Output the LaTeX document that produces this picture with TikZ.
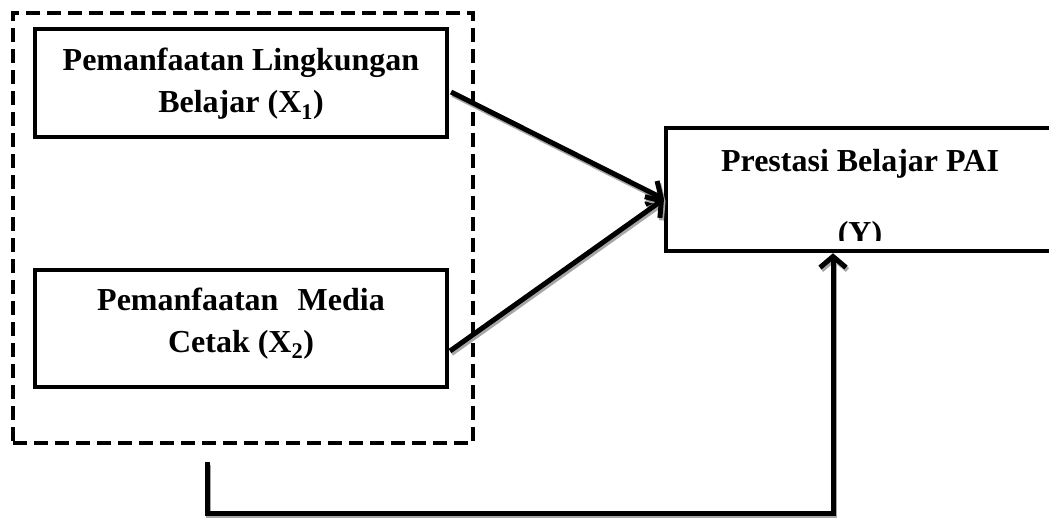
\documentclass[tikz,border=0pt]{standalone}
\usepackage{fontspec}
\setmainfont{Liberation Serif}
\usetikzlibrary{arrows.meta,calc}
\tikzset{
  box/.style={draw=black, line width=4.5pt, fill=white, inner sep=0pt},
  txt/.style={font=\fontsize{32}{42}\selectfont\bfseries, align=center, inner sep=0pt},
  grp/.style={draw=black, line width=4.5pt, dash pattern=on 14pt off 7pt, inner sep=0pt},
  conn/.style={line width=5pt, line cap=butt,
    preaction={draw=black!35, line width=5pt, transform canvas={shift={(1.5pt,-2.5pt)}}}},
  tip/.style={-{Straight Barb[length=11pt,width=26pt,line width=5pt]}}
}
\begin{document}
\begin{tikzpicture}[x=1pt,y=-1pt]
\useasboundingbox (0,0) rectangle (1049,517);
\clip (0,0) rectangle (1049,517);
% group frame
\node[grp, minimum width=460pt, minimum height=430pt] (grp) at (243,228) {};
% boxes
\node[box, minimum width=412pt, minimum height=108pt] (x1) at (241,83) {};
\node[txt] (x1t) at (241,84) {Pemanfaatan Lingkungan\\Belajar (X\textsubscript{1})};
\node[box, minimum width=412pt, minimum height=117pt] (x2) at (241,328.5) {};
\node[txt] (x2t) at (241,323.5) {Pemanfaatan\hspace{0.35em} Media\\Cetak (X\textsubscript{2})};
\node[box, minimum width=388pt, minimum height=123pt] (y) at (860,189.5) {};
\node[txt, anchor=base] (yt1) at (860,171) {Prestasi Belajar PAI};
\begin{scope}
\clip (670,132) rectangle (1049,240);
\node[txt, anchor=base] (yt2) at (860,243) {(Y)};
\end{scope}
% connector points
\coordinate (s1) at (451,92);
\coordinate (s2) at (450,351);
\coordinate (yin) at (664,199);
\coordinate (b0) at (207,462);
\coordinate (b1) at (207,513);
\coordinate (b2) at (833,513);
% connectors
\draw[conn, tip] (s1) -- (yin);
\draw[conn, tip] (s2) -- (yin);
\draw[conn, tip] (b0) -- (b1) -- (b2) -- (b2 |- y.south);
\end{tikzpicture}
\end{document}
